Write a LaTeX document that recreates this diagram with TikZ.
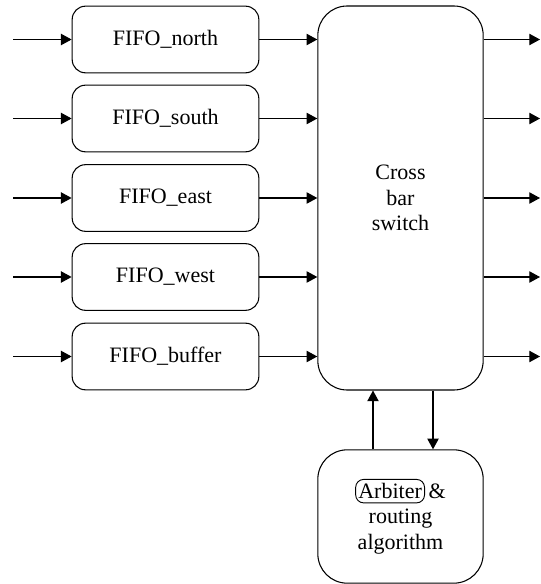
\documentclass[tikz,border=0pt]{standalone}
\usepackage{fontspec}
\setmainfont{Liberation Serif}
\usetikzlibrary{arrows.meta, positioning}
\tikzset{
    fifo/.style={draw, rectangle, rounded corners=10pt, minimum width=140pt, minimum height=50pt, inner sep=0pt, line width=0.8pt, font=\fontsize{16.5}{19}\selectfont},
    bigbox/.style={draw, rectangle, rounded corners=22pt, minimum width=124pt, inner sep=0pt, align=center, line width=0.8pt, font=\fontsize{16.5}{19}\selectfont},
    tagbox/.style={draw, rectangle, rounded corners=6pt, minimum width=0pt, minimum height=0pt, inner xsep=2pt, inner ysep=3pt, line width=0.7pt},
    arrow/.style={-{Triangle[length=8pt, width=8.5pt]}, line width=0.8pt}
}
\newcommand{\tagword}[1]{\tikz[baseline=(tw.base)] \node[tagbox] (tw) {#1};}

\begin{document}
\begin{tikzpicture}[x=0.75pt, y=-0.75pt]

    \useasboundingbox (0,0) rectangle (540,584);

    % -----------------------------------------------------------------
    % FIFO di ingresso
    % -----------------------------------------------------------------
    \node[fifo] (north)  at (165.5, 39.5)  {FIFO\_north};
    \node[fifo] (south)  at (165.5, 118.5) {FIFO\_south};
    \node[fifo] (east)   at (165.5, 198)   {FIFO\_east};
    \node[fifo] (west)   at (165.5, 277)   {FIFO\_west};
    \node[fifo] (buffer) at (165.5, 356.5) {FIFO\_buffer};

    % -----------------------------------------------------------------
    % Crossbar e arbitro
    % -----------------------------------------------------------------
    \node[bigbox, minimum height=288pt] (xbar) at (400.5, 198) {Cross\\bar\\switch};
    \node[bigbox, minimum height=100pt] (arbiter) at (400.5, 516.5) {\tagword{Arbiter}\,\&\\routing\\algorithm};

    % ingressi, uscite e collegamenti
    \foreach \f in {north, south, east, west, buffer} {
        \coordinate (in-\f) at (13, 0 |- \f.west);
        \coordinate (out-\f) at (540, 0 |- \f.east);
        \draw[arrow] (in-\f) -- (\f.west);
        \draw[arrow] (\f.east) -- (xbar.west |- \f.east);
        \draw[arrow] (xbar.east |- \f.east) -- (out-\f);
    }

    \draw[arrow] (arbiter.north -| 373, 0) -- (xbar.south -| 373, 0);
    \draw[arrow] (xbar.south -| 433, 0) -- (arbiter.north -| 433, 0);

\end{tikzpicture}
\end{document}
